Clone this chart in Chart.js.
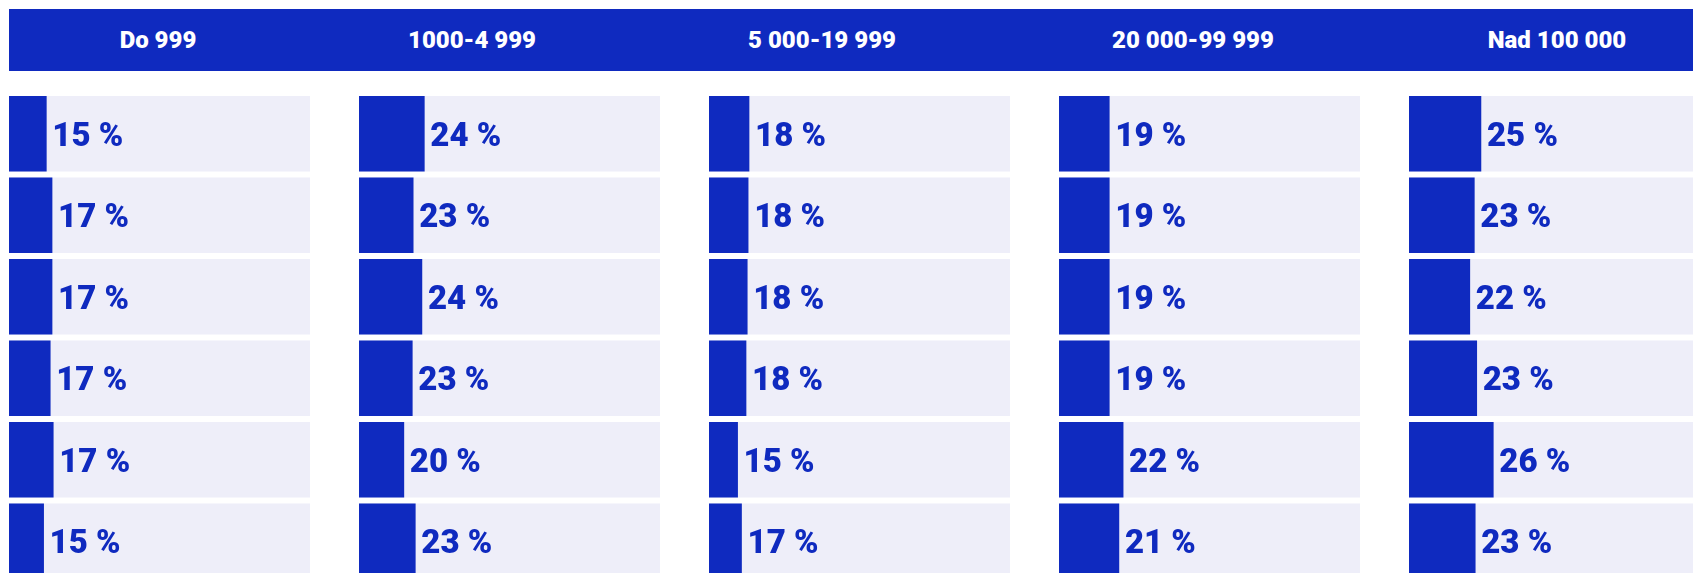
<!DOCTYPE html>
<html>
<head>
<meta charset="utf-8">
<script src="https://cdn.jsdelivr.net/npm/chart.js@4.4.1/dist/chart.umd.min.js"></script>
<style>
html,body{margin:0;padding:0;width:1693px;height:573px;overflow:hidden;background:#ffffff;}
#hdr{position:absolute;left:9px;top:9px;width:1720px;height:62px;background:#0f2abf;}
.h{position:absolute;top:9px;height:62px;line-height:62px;width:300px;text-align:center;color:#ffffff;font-family:Roboto,"DejaVu Sans",sans-serif;font-weight:900;font-size:24px;white-space:nowrap;}
canvas{position:absolute;}
</style>
</head>
<body>
<div id="hdr"></div>
<script>
// Column headers (size groups)
const categories = ['Do 999', '1000-4 999', '5 000-19 999', '20 000-99 999', 'Nad 100 000'];
// Row identifiers (row labels are not visible in the picture)
const rows = ['1', '2', '3', '4', '5', '6'];
// Displayed percentages per column
const pctDo999     = [15, 17, 17, 17, 17, 15];
const pct1000      = [24, 23, 24, 23, 20, 23];
const pct5000      = [18, 18, 18, 18, 15, 17];
const pct20000     = [19, 19, 19, 19, 22, 21];
const pctNad100000 = [25, 23, 22, 23, 26, 23];
// Bar lengths as drawn (share of track width)
const barDo999     = [12.4, 14.3, 14.3, 13.7, 14.7, 11.5];
const bar1000      = [21.7, 18.0, 20.9, 17.7, 14.9, 18.7];
const bar5000      = [13.3, 13.0, 12.7, 12.3, 9.5, 10.8];
const bar20000     = [16.7, 16.7, 16.7, 16.7, 21.3, 19.9];
const barNad100000 = [23.9, 21.7, 20.2, 22.5, 28.0, 22.0];
const trackMax = 100;

const pctCols = [pctDo999, pct1000, pct5000, pct20000, pctNad100000];
const barCols = [barDo999, bar1000, bar5000, bar20000, barNad100000];
// Header text centres (px)
const headerCenters = [158, 472, 822, 1193, 1557];

const BLUE = '#0f2abf';
const TRACK = '#eeeef9';

const valueLabels = {
  id: 'valueLabels',
  afterDatasetsDraw(chart, args, opts) {
    const ctx = chart.ctx;
    const meta = chart.getDatasetMeta(0);
    ctx.save();
    ctx.fillStyle = BLUE;
    ctx.font = '900 33px Roboto, "DejaVu Sans", sans-serif';
    ctx.textAlign = 'left';
    ctx.textBaseline = 'middle';
    meta.data.forEach((el, i) => {
      ctx.fillText(opts.texts[i] + ' %', el.x + 6, el.y + 3.5);
    });
    ctx.restore();
  }
};

function build() {
  categories.forEach((cat, k) => {
    const left = 9 + k * 350;
    const h = document.createElement('div');
    h.className = 'h';
    h.style.left = (headerCenters[k] - 150) + 'px';
    h.textContent = cat;
    document.body.appendChild(h);

    const cv = document.createElement('canvas');
    cv.width = 301;
    cv.height = 489;
    cv.style.left = left + 'px';
    cv.style.top = '93px';
    cv.style.width = '301px';
    cv.style.height = '489px';
    document.body.appendChild(cv);

    new Chart(cv, {
      type: 'bar',
      data: {
        labels: rows,
        datasets: [
          {
            label: cat,
            data: barCols[k],
            backgroundColor: BLUE,
            borderWidth: 0,
            grouped: false,
            order: 0,
            barThickness: 75
          },
          {
            label: 'track',
            data: rows.map(() => trackMax),
            backgroundColor: TRACK,
            borderWidth: 0,
            grouped: false,
            order: 1,
            barThickness: 75
          }
        ]
      },
      options: {
        indexAxis: 'y',
        responsive: false,
        animation: false,
        devicePixelRatio: 1,
        layout: { padding: 0 },
        scales: {
          x: { min: 0, max: trackMax, display: false },
          y: { display: false, offset: true }
        },
        plugins: {
          legend: { display: false },
          tooltip: { enabled: false },
          title: { display: false },
          valueLabels: { texts: pctCols[k] }
        }
      },
      plugins: [valueLabels]
    });
  });
}

if (document.fonts && document.fonts.load) {
  Promise.all([
    document.fonts.load('900 33px Roboto'),
    document.fonts.load('900 24px Roboto')
  ]).then(build, build);
} else {
  build();
}
</script>
</body>
</html>
